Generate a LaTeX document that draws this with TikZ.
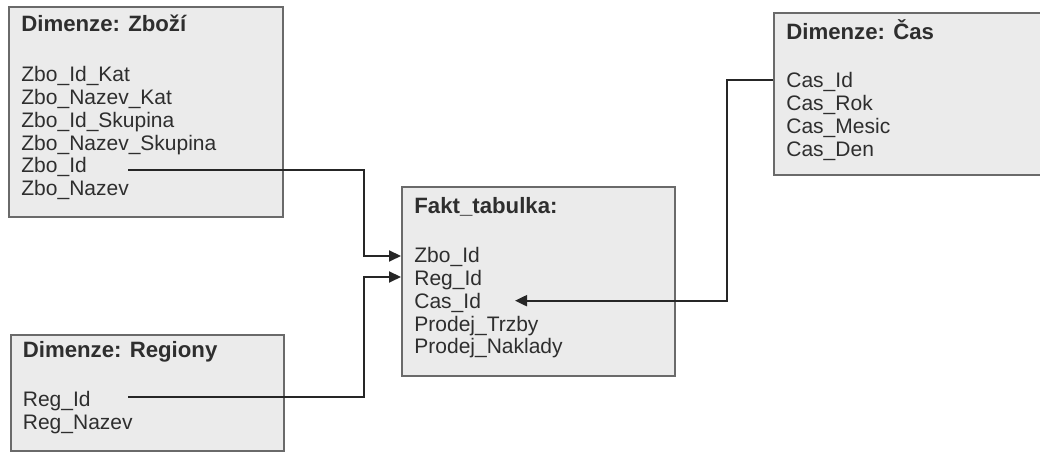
\documentclass[tikz,border=0pt]{standalone}
\usepackage{fontspec}
\setmainfont{Liberation Sans}
\usetikzlibrary{arrows.meta,calc}
\definecolor{boxfill}{HTML}{EBEBEB}
\definecolor{boxline}{HTML}{6A6A6A}
\definecolor{txt}{HTML}{2E2E2E}
\definecolor{conn}{HTML}{262626}
\begin{document}
\begin{tikzpicture}[x=0.5pt,y=-0.5pt,
  tbox/.style={draw=boxline, line width=1pt, fill=boxfill, inner sep=0pt, rectangle},
  row/.style={anchor=base west, inner sep=0pt, text=txt, font=\fontsize{10.5}{12}\selectfont},
  title/.style={row, font=\fontsize{11.1}{12}\selectfont\bfseries},
  link/.style={draw=conn, line width=1pt},
  arr/.style={link, -{Triangle[length=6pt,width=5.5pt]}}]
\useasboundingbox (0,0) rectangle (1040,453);
% boxes
\node[tbox, minimum width=137pt, minimum height=105pt] (zbox) at (146,112) {};
\node[tbox, minimum width=136.5pt, minimum height=58pt] (rbox) at (147.5,393) {};
\node[tbox, minimum width=136.5pt, minimum height=94.5pt] (fbox) at (538.5,281.5) {};
\node[tbox, minimum width=136pt, minimum height=81pt] (cbox) at (910,94) {};
% Zbozi
\node[title] (zt) at (21,32) {Dimenze: Zboží};
\node[row] (z1) at (21,82) {Zbo\_Id\_Kat};
\node[row] (z2) at (21,104.7) {Zbo\_Nazev\_Kat};
\node[row] (z3) at (21,127.4) {Zbo\_Id\_Skupina};
\node[row] (z4) at (21,150.1) {Zbo\_Nazev\_Skupina};
\node[row] (z5) at (21,172.8) {Zbo\_Id};
\node[row] (z6) at (21,195.5) {Zbo\_Nazev};
% Regiony
\node[title] (rt) at (22.5,358) {Dimenze: Regiony};
\node[row] (r1) at (22.5,407) {Reg\_Id};
\node[row] (r2) at (22.5,430) {Reg\_Nazev};
% Fakt
\node[title] (ft) at (414,214) {Fakt\_tabulka:};
\node[row] (f1) at (414,263) {Zbo\_Id};
\node[row] (f2) at (414,285.7) {Reg\_Id};
\node[row] (f3) at (414,308.4) {Cas\_Id};
\node[row] (f4) at (414,331.1) {Prodej\_Trzby};
\node[row] (f5) at (414,353.8) {Prodej\_Naklady};
% Cas
\node[title] (ct) at (786,40) {Dimenze: Čas};
\node[row] (c1) at (786,88) {Cas\_Id};
\node[row] (c2) at (786,110.7) {Cas\_Rok};
\node[row] (c3) at (786,133.4) {Cas\_Mesic};
\node[row] (c4) at (786,156.1) {Cas\_Den};
% connector ends
\coordinate (zs) at (128,170.5);
\coordinate (rs) at (128,397.5);
\coordinate (ce) at (515,300.7);
\coordinate (xm) at (364,0);
\coordinate (xc) at (727,0);
\draw[arr] (zs) -- (zs -| xm) |- (fbox.west |- 0,256);
\draw[arr] (rs) -- (rs -| xm) |- (fbox.west |- 0,277);
\draw[arr] (cbox.west |- 0,80) -- (xc |- 0,80) |- (ce);
\end{tikzpicture}
\end{document}
